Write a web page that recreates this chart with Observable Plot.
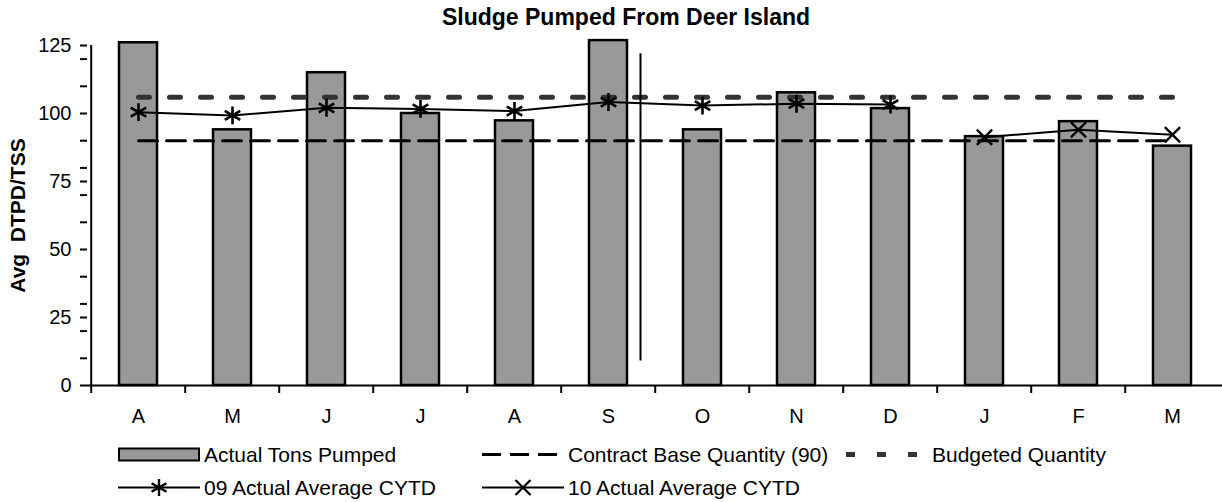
<!DOCTYPE html>
<html><head><meta charset="utf-8">
<script src="https://cdn.jsdelivr.net/npm/d3@7"></script>
<script src="https://cdn.jsdelivr.net/npm/@observablehq/plot@0.6"></script>
<style>
body{margin:0;background:#fff;font-family:"Liberation Sans",Arial,sans-serif;color:#000;width:1222px;overflow:hidden;}
#title{height:34px;line-height:34px;font-size:23px;font-weight:bold;text-align:center;padding-left:30px;box-sizing:border-box;width:1222px;}
#chart svg{display:block;overflow:visible;}
#legend{padding-top:8px;padding-left:118px;display:grid;grid-template-columns:364px 364px 364px;}
.item{display:flex;align-items:center;height:33px;font-size:21px;white-space:nowrap;}
.item svg{margin-right:4px;flex:none;}
</style></head><body>
<div id="title"></div><div id="chart"></div><div id="legend"></div>
<script>
const titleText = "Sludge Pumped From Deer Island";
const yLabel = "Avg\u00a0 DTPD/TSS";
const monthKeys = ["Apr","May","Jun","Jul","Aug","Sep","Oct","Nov","Dec","Jan","Feb","Mar"];
const monthLabels = ["A","M","J","J","A","S","O","N","D","J","F","M"];
const tonsPumped = [126, 94, 115, 100, 97.3, 126.8, 94, 107.6, 101.8, 91.5, 97, 88];
const cytd09Months = ["Apr","May","Jun","Jul","Aug","Sep","Oct","Nov","Dec"];
const cytd09 = [100.5, 99.3, 102.1, 101.7, 100.9, 104.2, 102.9, 103.6, 103.3];
const cytd10Months = ["Jan","Feb","Mar"];
const cytd10 = [91.3, 94.0, 92.2];
const contractBase = 90;
const budgeted = 106;
const separatorMonth = "Sep";
const separatorRange = [9, 122];
const yMajorTicks = [0, 25, 50, 75, 100, 125];
const yMinorTicks = [10, 20, 30, 40, 60, 70, 80, 90, 110, 120];
const legendLabels = ["Actual Tons Pumped", "Contract Base Quantity (90)", "Budgeted Quantity", "09 Actual Average CYTD", "10 Actual Average CYTD"];

document.getElementById("title").textContent = titleText;

const tonsData = monthKeys.map((m, i) => ({month: m, value: tonsPumped[i]}));
const c09Data = cytd09Months.map((m, i) => ({month: m, value: cytd09[i]}));
const c10Data = cytd10Months.map((m, i) => ({month: m, value: cytd10[i]}));
const contractData = monthKeys.map(m => ({month: m, value: contractBase}));
const budgetData = monthKeys.map(m => ({month: m, value: budgeted}));

const W = 1222, ML = 87, MR = 0;
const step = (W - ML - MR) / monthKeys.length;

const chart = Plot.plot({
  width: W, height: 396, marginLeft: ML, marginRight: MR, marginTop: 11, marginBottom: 45,
  style: {fontFamily: "'Liberation Sans', Arial, sans-serif", background: "white", color: "black", overflow: "visible"},
  x: {type: "band", domain: monthKeys, paddingInner: 0.6, paddingOuter: 0.3, axis: null},
  y: {domain: [0, 125], axis: null},
  marks: [
    Plot.barY(tonsData, {x: "month", y: "value", fill: "#999999", stroke: "black", strokeWidth: 2.5}),
    Plot.line(contractData, {x: "month", y: "value", stroke: "black", strokeWidth: 3, strokeDasharray: "19,9"}),
    Plot.line(budgetData, {x: "month", y: "value", stroke: "#333333", strokeWidth: 5, strokeDasharray: "11,20"}),
    Plot.ruleX([separatorMonth], {x: d => d, y1: separatorRange[0], y2: separatorRange[1], dx: 32, stroke: "black", strokeWidth: 2}),
    Plot.line(c09Data, {x: "month", y: "value", stroke: "black", strokeWidth: 2}),
    Plot.dot(c09Data, {x: "month", y: "value", symbol: "asterisk", r: 8.5, stroke: "black", strokeWidth: 2.6}),
    Plot.line(c10Data, {x: "month", y: "value", stroke: "black", strokeWidth: 2}),
    Plot.dot(c10Data, {x: "month", y: "value", symbol: "times", r: 7, stroke: "black", strokeWidth: 2.4}),
    Plot.ruleY([0], {stroke: "black", strokeWidth: 2}),
    Plot.ruleX([monthKeys[0]], {x: d => d, y1: 0, y2: 125, dx: -step / 2, stroke: "black", strokeWidth: 2}),
    Plot.axisY({ticks: yMajorTicks, tickSize: 7, tickPadding: 9, fontSize: 20, strokeWidth: 2, label: null, tickFormat: d => String(d)}),
    Plot.axisY({ticks: yMinorTicks, tickSize: 7, strokeWidth: 2, label: null, tickFormat: () => ""}),
    Plot.axisX({tickSize: 0, tickPadding: 23, fontSize: 20, label: null, tickFormat: d => monthLabels[monthKeys.indexOf(d)]}),
    Plot.axisX({tickSize: 8, strokeWidth: 2, dx: -step / 2, label: null, tickFormat: () => ""}),
    Plot.text([yLabel], {frameAnchor: "left", textAnchor: "middle", rotate: -90, dx: -69, fontSize: 21, fontWeight: "bold", fill: "black"})
  ]
});
document.getElementById("chart").appendChild(chart);

// legend
const sq3 = Math.sqrt(3);
function asterisk(cx, cy, r) {
  const t = r / 2, u = t * sq3;
  return `<path d="M${cx},${cy - r}L${cx},${cy + r}M${cx - u},${cy - t}L${cx + u},${cy + t}M${cx - u},${cy + t}L${cx + u},${cy - t}" stroke="#000" stroke-width="2.4" fill="none"/>`;
}
function times(cx, cy, r) {
  return `<path d="M${cx - r},${cy - r}L${cx + r},${cy + r}M${cx - r},${cy + r}L${cx + r},${cy - r}" stroke="#000" stroke-width="2.2" fill="none"/>`;
}
const swatches = [
  `<rect x="1" y="10.5" width="80" height="12" fill="#999999" stroke="#000" stroke-width="2"/>`,
  `<line x1="0" x2="82" y1="16.5" y2="16.5" stroke="#000" stroke-width="3" stroke-dasharray="19,9"/>`,
  `<line x1="0" x2="82" y1="16.5" y2="16.5" stroke="#333" stroke-width="5" stroke-dasharray="9,22"/>`,
  `<line x1="0" x2="82" y1="16.5" y2="16.5" stroke="#000" stroke-width="2"/>` + asterisk(41, 16.5, 8.6),
  `<line x1="0" x2="82" y1="16.5" y2="16.5" stroke="#000" stroke-width="2"/>` + times(41, 16.5, 7.5)
];
const legend = document.getElementById("legend");
legendLabels.forEach((lab, i) => {
  const div = document.createElement("div");
  div.className = "item";
  div.innerHTML = `<svg width="82" height="33">${swatches[i]}</svg><span></span>`;
  div.querySelector("span").textContent = lab;
  legend.appendChild(div);
});
</script>
</body></html>
